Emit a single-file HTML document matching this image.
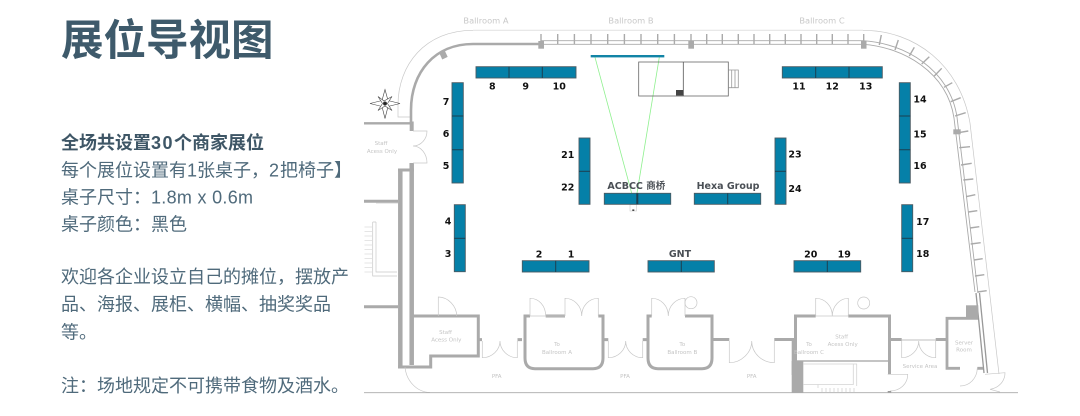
<!DOCTYPE html>
<html>
<head>
<meta charset="utf-8">
<style>
html,body{margin:0;padding:0;background:#fff;width:1080px;height:416px;overflow:hidden}
svg{display:block}
.t{font-family:"Liberation Sans","Noto Sans CJK SC",sans-serif;font-size:18px;fill:#4f6a7b}
.b{font-weight:700;fill:#3e5666}
.n{font-family:"DejaVu Sans",sans-serif;font-weight:700;font-size:9.5px;fill:#111;text-anchor:middle}
.c{font-family:"DejaVu Sans","Noto Sans CJK SC",sans-serif;font-weight:700;font-size:9.5px;fill:#4a4f55;text-anchor:middle}
.s{font-family:"DejaVu Sans",sans-serif;font-size:5.5px;fill:#c4c4c4;text-anchor:middle}
.r{font-family:"DejaVu Sans",sans-serif;font-size:8.3px;fill:#c8c8c8;text-anchor:middle}
.w{fill:none;stroke:#aaa;stroke-width:3}
.th{fill:none;stroke:#c8c8c8;stroke-width:.7}
.booth rect{fill:#0580a8;stroke:#4a5a62;stroke-width:.9}
.booth path{stroke:#1c3f50;stroke-width:1;fill:none}
</style>
</head>
<body>
<svg width="1080" height="416" viewBox="0 0 1080 416" xmlns="http://www.w3.org/2000/svg">
<rect width="1080" height="416" fill="#fff"/>

<!-- left text -->
<text x="61" y="55" font-family="'Liberation Sans','Noto Sans CJK SC',sans-serif" font-size="42.5px" font-weight="700" fill="#3e5a6b">展位导视图</text>
<text class="t b" x="61" y="149">全场共设置<tspan letter-spacing="1.500">30</tspan>个商家展位</text>
<text class="t" x="61" y="176.500">每个展位设置有1张桌子&#xFF0C;<tspan letter-spacing="1">2</tspan>把椅子】</text>
<text class="t" x="61" y="203.500">桌子尺寸&#xFF1A;<tspan letter-spacing=".3">1.8m x 0.6m</tspan></text>
<text class="t" x="61" y="230.500">桌子颜色&#xFF1A;黑色</text>
<text class="t" x="61" y="283">欢迎各企业设立自己的摊位&#xFF0C;摆放产</text>
<text class="t" x="61" y="310.500">品、海报、展柜、横幅、抽奖奖品</text>
<text class="t" x="61" y="338.500">等。</text>
<text class="t" x="61" y="392">注&#xFF1A;场地规定不可携带食物及酒水。</text>

<!-- ballroom labels -->
<text class="r" x="486" y="23.500">Ballroom A</text>
<text class="r" x="631" y="23.500">Ballroom B</text>
<text class="r" x="822" y="23.500">Ballroom C</text>

<!-- outer thin lines -->
<path d="M473,30.300H863" fill="none" stroke="#e4e4e4" stroke-width="1.200"/>
<path d="M473,30.300C425,30.300 398,65 398,105V117H410" class="th"/>
<path d="M863,30.300C915,30.300 960,65 970,123L999,374" class="th"/>

<!-- thick wall top-left -->
<path d="M540,44H473C435,44 411,72 411,110V124" fill="none" stroke="#aaa" stroke-width="2.600"/>
<rect x="538.300" y="41" width="5.700" height="7.700" fill="#aaa"/>
<rect x="688.300" y="41" width="5.700" height="7.700" fill="#aaa"/>
<rect x="861" y="41" width="5.500" height="7.700" fill="#aaa"/>
<rect x="953.300" y="129.300" width="7.400" height="5" fill="#aaa"/>
<rect x="440.500" y="52" width="6" height="6.500" fill="#aaa" transform="rotate(-25 443.500 55)"/>

<!-- rail -->
<path d="M541,40.700H863C905,43 950,70 957,117L978,293M541,44.300H863C903,47 947,72 954,118L975,292" fill="none" stroke="#aaa" stroke-width=".9"/>
<path d="M541,34V44M557.700,34V44M574.400,34V44M591,34V44M607.700,34V44M624.400,34V44M641,34V44M657.700,34V44M674.400,34V44M691,34V44M706.700,34V44M722.300,34V44M738.300,34V44M754,34V44M769.700,34V44M785.300,34V44M801,34V44M816.700,34V44M832.300,34V44M848,34V44M863.700,34V44M879.300,45L881.300,35M895,50L898.300,40M909.300,56L914.300,47.300M921.700,64L929.300,56.700M934.300,76L941.700,68.300M944,87.300L952.300,82.700M950.700,101.700L960.700,97.700M955,116L965.700,112.700M958.300,132.700L968.300,131M959.300,147.700L970,146.700M961,165L971.700,163.300M963.300,180L973.300,179M966,196.700L975.300,194.700M968.300,212L977.300,210.700M970,228L979.300,226.700M970.700,244L980.700,242.700M974,260L982.700,258.700M975,276L984.300,274.700M977.300,292L986.700,290.700" fill="none" stroke="#aaa" stroke-width="1.400"/>
<path d="M976,293L984,373M979.500,293L987.500,373" fill="none" stroke="#999" stroke-width="1.300"/>

<!-- compass -->
<g transform="translate(385 103.500)" fill="#fff" stroke="#444" stroke-width=".6">
<path d="M0,-14L3,-3L15,0L3,3L0,15L-3,3L-15,0L-3,-3Z"/>
<path d="M-7,-7L-1,-2.500L7,-7L2.500,0L7,7L0,2.500L-7,7L-2.500,0Z"/>
<circle r="1.700" fill="#222"/>
</g>

<!-- left walls -->
<path d="M364,123.300H412" fill="none" stroke="#aaa" stroke-width="2.400"/>
<rect x="409.700" y="121.500" width="4" height="9.500" fill="#aaa"/>
<path d="M411.700,163V365" class="w" style="stroke-width:4.500"/>
<path d="M400.300,170V366" class="w" style="stroke-width:4.500"/>
<path d="M398,170H414" class="w"/>
<path d="M364,201.300H398M364,306.700H398" class="w"/>
<path d="M413,131H427C427,139 421,146 413,146C421,146 427,154 427,163H413" class="th"/>
<text class="s" x="381" y="145">Staff</text>
<text class="s" x="382" y="153">Acess Only</text>

<!-- stairs left -->
<path d="M372.700,222V276H397M376,222V272H397M372.700,222H376M376,203H398" class="th"/>
<path d="M364.500,227H372M364.500,231.500H372M364.500,236H372M364.500,240.500H372M364.500,245H372M364.500,249.500H372M364.500,254H372M364.500,258.500H372M364.500,263H372M364.500,267.500H372M364.500,272H372" fill="none" stroke="#ddd" stroke-width=".8"/>

<!-- staff room left -->
<path d="M412.700,316H478.300V356H430.700V367H398" class="w"/>
<path d="M438.300,316V297C448,297 456.700,306 456.700,316" class="th"/>
<text class="s" x="445.500" y="334">Staff</text>
<text class="s" x="446.300" y="341.500">Acess Only</text>
<path d="M405,367C406,380 416,392 430,392.500" class="th"/>

<!-- door group 1 -->
<path d="M478,339.600H482M517.500,339.600H522" fill="none" stroke="#aaa" stroke-width="3"/>
<path d="M482.300,341V357.700C492,357.700 500,350 500,341C500,350 508,357.700 517.300,357.700V341" class="th"/>

<!-- room A -->
<path d="M530,316H525V358Q525,368.700 535,368.700H593Q603,368.700 603,358V316H598.300M545.700,316H565" class="w"/>
<path d="M530,316V298.300C539,298.300 545.700,306 545.700,316M565,316V298.300C574,298.300 581.700,306 581.700,316C581.700,306 589,298.300 598.300,298.300V316M530,316H565" class="th"/>
<text class="s" x="557" y="346">To</text>
<text class="s" x="557" y="354">Ballroom A</text>

<!-- door group 2 -->
<path d="M604,339.600H608.300M642.700,339.600H647" fill="none" stroke="#aaa" stroke-width="3"/>
<path d="M608.300,341V357.700C618,357.700 625.700,350 625.700,341C625.700,350 633,357.700 642.700,357.700V341" class="th"/>

<!-- room B -->
<path d="M651.700,316H648V358Q648,368.700 658,368.700H702Q712,368.700 712,358V316H685" class="w"/>
<path d="M651.700,316V298.300C661,298.300 668.300,306 668.300,316C668.300,306 676,298.300 685,298.300V316" class="th"/>
<circle cx="691" cy="302.700" r="6" class="th"/>
<text class="s" x="682.300" y="346">To</text>
<text class="s" x="682.300" y="354">Ballroom B</text>

<!-- door group 3 -->
<path d="M713,339.500H729.300M774.300,339.500H794" fill="none" stroke="#aaa" stroke-width="3"/>
<path d="M729.300,341V362.700C741,362.700 751.700,353 751.700,341C751.700,353 762,362.700 774.300,362.700V341" class="th"/>

<!-- room C -->
<path d="M815.700,316H795.500V361M848.300,316H889.500V374" class="w"/>
<path d="M797,361H888" fill="none" stroke="#c4c4c4" stroke-width="2"/>
<rect x="791.700" y="339" width="5.300" height="36" fill="#aaa"/>
<rect x="791.700" y="361" width="11.600" height="31.700" fill="#aaa"/>
<path d="M815.700,316V298.300C825,298.300 832.300,306 832.300,316C832.300,306 840,298.300 848.300,298.300V316M815.700,316H848.300" class="th"/>
<circle cx="863.700" cy="303" r="6" class="th"/>
<text class="s" x="809" y="346">To</text>
<text class="s" x="809" y="354">Ballroom C</text>
<text class="s" x="841.700" y="338.500">Staff</text>
<text class="s" x="842.700" y="346">Acess Only</text>
<!-- stairs below C -->
<path d="M803,364H856.700V386M853.300,364V384.500H818V388M803,384.500H818" fill="none" stroke="#d4d4d4" stroke-width=".8"/>
<path d="M822,388V392M826,388V392M830,388V392M834,388V392M838,388V392M842,388V392M846,388V392M850,388V392M854,388V392" fill="none" stroke="#ccc" stroke-width=".7"/>
<path d="M887.700,374.300H907.700C907.700,384 900,391 890,391" class="th"/>
<rect x="887.700" y="391" width="3.500" height="1.700" fill="#999"/>

<!-- service area -->
<path d="M889,339.500H901.700M935.700,339.500H946.700" fill="none" stroke="#aaa" stroke-width="3"/>
<path d="M901.700,340H935.700" fill="none" stroke="#aaa" stroke-width=".8"/>
<path d="M901.700,340V357.700C911,357.700 918.700,350 918.700,341C918.700,350 926,357.700 935.700,357.700V340" class="th"/>
<text class="s" x="920" y="368">Service Area</text>

<!-- server room -->
<path d="M960,368.300H947V318.300H978M977.300,368.300H983" class="w" style="stroke-width:2.800"/>
<rect x="966" y="305.300" width="12.300" height="13" fill="#aaa"/>
<path d="M977.300,368.300C977,378 970,386 960,386" class="th"/>
<text class="s" x="964" y="344.700">Server</text>
<text class="s" x="964" y="351.700">Room</text>
<path d="M985,374.300L1005,372.700C1005,381 999,388 990,389.300M990,389.300L1000,392" class="th"/>

<!-- PFA -->
<text class="s" x="496.700" y="378">PFA</text>
<text class="s" x="625" y="378">PFA</text>
<text class="s" x="751.700" y="378">PFA</text>

<!-- bottom line -->
<path d="M364,392.700H1018" fill="none" stroke="#aaa" stroke-width=".8"/>

<!-- stage -->
<path d="M595,57.300L631.700,193.300M659.300,57.300L636.700,195" fill="none" stroke="#8ef08e" stroke-width=".8"/>
<rect x="590.700" y="55" width="73.600" height="2.400" fill="#1284a6"/>
<rect x="638.700" y="62" width="89.600" height="34" fill="none" stroke="#666" stroke-width=".8"/>
<path d="M683.300,62V96" fill="none" stroke="#555" stroke-width=".8"/>
<path d="M728.300,70H738.300V87.700H728.300M731.700,70V87.700M735,70V87.700" fill="none" stroke="#999" stroke-width=".8"/>
<rect x="676" y="90" width="7.500" height="5.500" fill="#444"/>
<rect x="630" y="204.500" width="6.500" height="6.500" fill="#fff" stroke="#ccc" stroke-width=".6"/>
<rect x="632.300" y="209.500" width="2" height="1.300" fill="#222"/>

<!-- booths -->
<g class="booth">
<rect x="476" y="66.700" width="100" height="11.300"/><path d="M509,66.700V78M542.300,66.700V78"/>
<rect x="782.300" y="66.700" width="100" height="11.300"/><path d="M815.700,66.700V78M849,66.700V78"/>
<rect x="452" y="82.700" width="11.300" height="100.300"/><path d="M452,116H463.300M452,149.700H463.300"/>
<rect x="899.300" y="82.700" width="11" height="100.300"/><path d="M899.300,116H910.300M899.300,149.700H910.300"/>
<rect x="579" y="138" width="11" height="66.300"/><path d="M579,171.300H590"/>
<rect x="775" y="138" width="11" height="66.300"/><path d="M775,171.300H786"/>
<rect x="604.300" y="193.300" width="66.400" height="11"/><path d="M637.300,193.300V204.300" style="stroke-width:2"/>
<rect x="694.300" y="193.300" width="66.400" height="11"/><path d="M727.700,193.300V204.300"/>
<rect x="454.300" y="204.700" width="11" height="67"/><path d="M454.300,238.300H465.300"/>
<rect x="901.700" y="204.700" width="11" height="67"/><path d="M901.700,238.300H912.700"/>
<rect x="522.300" y="260.700" width="66.700" height="11.300"/><path d="M555.700,260.700V272"/>
<rect x="648" y="260.700" width="66.300" height="11.300"/><path d="M681.300,260.700V272"/>
<rect x="794" y="260.700" width="66.700" height="11.300"/><path d="M827.300,260.700V272"/>
</g>

<!-- numbers -->
<text class="n" x="492.300" y="89.500">8</text>
<text class="n" x="525.700" y="89.500">9</text>
<text class="n" x="559.300" y="89.500">10</text>
<text class="n" x="799" y="89.500">11</text>
<text class="n" x="832.300" y="89.500">12</text>
<text class="n" x="865.700" y="89.500">13</text>
<text class="n" x="446" y="105.200">7</text>
<text class="n" x="446" y="136.800">6</text>
<text class="n" x="446" y="169.200">5</text>
<text class="n" x="920" y="102.500">14</text>
<text class="n" x="920" y="137.500">15</text>
<text class="n" x="920" y="169.200">16</text>
<text class="n" x="567.700" y="157.800">21</text>
<text class="n" x="567.700" y="190.500">22</text>
<text class="n" x="795" y="157.500">23</text>
<text class="n" x="795" y="192.200">24</text>
<text class="n" x="448" y="224.500">4</text>
<text class="n" x="448" y="257.200">3</text>
<text class="n" x="922.700" y="224.800">17</text>
<text class="n" x="922.700" y="257.200">18</text>
<text class="n" x="539" y="257.500">2</text>
<text class="n" x="571" y="257.500">1</text>
<text class="n" x="810.700" y="257.500">20</text>
<text class="n" x="844.300" y="257.500">19</text>
<text class="c" x="680" y="256.800">GNT</text>
<text class="c" x="636.300" y="189">ACBCC 商桥</text>
<text class="c" x="728" y="189">Hexa Group</text>
</svg>
</body>
</html>
